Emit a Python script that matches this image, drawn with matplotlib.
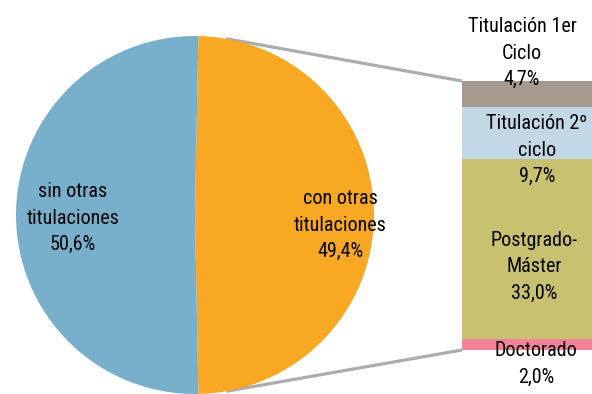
import numpy as np
import matplotlib.pyplot as plt
from matplotlib import font_manager as fm

# narrow sans for the labels, whichever is installed
font_kw = dict(family='DejaVu Sans', fontstretch='condensed')
for fam in ['Liberation Sans Narrow', 'Roboto Condensed', 'Open Sans Condensed']:
    try:
        fm.findfont(fm.FontProperties(family=fam), fallback_to_default=False)
        font_kw = dict(family=[fam, 'DejaVu Sans'])
        break
    except ValueError:
        pass

# pie: people with / without other degrees
pie_labels = ['con otras\ntitulaciones', 'sin otras\ntitulaciones']
pie_values = [49.4, 50.6]
pie_colors = ['#F9A823', '#78AFCA']

# breakdown of "con otras titulaciones", bottom to top
bar_labels = ['Doctorado', 'Postgrado-\nMáster', 'Titulación 2º\nciclo', 'Titulación 1er\nCiclo']
bar_values = [2.0, 33.0, 9.7, 4.7]
bar_colors = ['#F2839A', '#C8C270', '#C3D8E5', '#A8998E']

fig = plt.figure(figsize=(5.92, 3.94), dpi=100)
ax = fig.add_axes([0, 0, 1, 1])

cx, cy, r = 195, 179, 179
half = pie_values[0] / 100 * 180
ax.pie(pie_values, colors=pie_colors, startangle=-half,
       center=(cx, cy), radius=r, frame=True,
       wedgeprops=dict(linewidth=0))
ax.set_xlim(0, 592)
ax.set_ylim(0, 394)
ax.set_aspect('equal')
ax.axis('off')

def pct(v):
    return f'{v:.1f}%'.replace('.', ',')

fs = 14.5
ls = 1.5
ax.text(340, 394 - 225, pie_labels[0] + '\n' + pct(pie_values[0]),
        ha='center', va='center', fontsize=fs, linespacing=ls, **font_kw)
ax.text(73, 394 - 218, pie_labels[1] + '\n' + pct(pie_values[1]),
        ha='center', va='center', fontsize=fs, linespacing=ls, **font_kw)

# stacked bar
scale = 269 / sum(bar_values)
bx, bw, by0 = 462, 130, 394 - 350
bottom = by0
label_pos = [(536, 364), (534, 267), (537, 150), (522, 53)]
for lab, v, c, (tx, ty) in zip(bar_labels, bar_values, bar_colors, label_pos):
    ax.bar(bx + bw / 2, v * scale, width=bw, bottom=bottom, color=c, linewidth=0)
    bottom += v * scale
    ax.text(tx, 394 - ty, lab + '\n' + pct(v), ha='center', va='center',
            fontsize=fs, linespacing=ls, **font_kw)

# connector lines from pie edge to bar corners
ang = np.deg2rad(80)
for sgn, yb in [(1, bottom), (-1, by0)]:
    px = cx + r * np.cos(ang)
    py = cy + sgn * r * np.sin(ang)
    ax.plot([px, bx], [py, yb], color='#A9ADB1', linewidth=2.3,
            solid_capstyle='butt', zorder=0.5)

fig.savefig('out.png', dpi=100)
